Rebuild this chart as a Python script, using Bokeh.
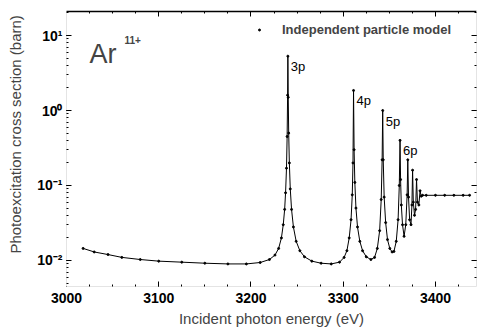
from bokeh.plotting import figure
from bokeh.models import (Range1d, LogAxis, LinearAxis, Label, Legend, LegendItem,
                          CustomJSTickFormatter, SingleIntervalTicker, LogTicker)
from bokeh.core.properties import value
from bokeh.embed import file_html
from bokeh.resources import INLINE

# ---- data ----
energy = [3018, 3030, 3045, 3060, 3080, 3100, 3125, 3150, 3175, 3195,
          3210, 3220, 3226, 3230, 3233, 3235, 3236.5, 3237.5, 3238.5, 3239.2,
          3239.7, 3240.0, 3240.4, 3240.9, 3241.6, 3242.6, 3244, 3246, 3249, 3253,
          3258, 3266, 3276, 3287, 3296, 3301, 3304, 3306.5, 3308.5, 3309.8,
          3310.6, 3311.2, 3311.8, 3312.6, 3313.8, 3315.5, 3318, 3321, 3325, 3330,
          3334, 3337, 3339.5, 3341.2, 3342.2, 3342.8, 3343.4, 3344.4, 3346, 3348,
          3350.5, 3353, 3355, 3357.5, 3359.5, 3360.8, 3361.6, 3362.2, 3363.0, 3364.3,
          3366, 3367.8, 3369.3, 3370.0, 3370.8, 3372, 3373.5, 3374.5, 3375.2, 3376,
          3377.3, 3378.5, 3379.5, 3380.5, 3382, 3383.3, 3384.5, 3386, 3390, 3400,
          3410, 3420, 3430, 3437]
sigma = [0.0145, 0.0130, 0.0120, 0.0110, 0.0103, 0.0098, 0.0095, 0.0092, 0.0090, 0.0090,
         0.0094, 0.0103, 0.0118, 0.0145, 0.020, 0.030, 0.048, 0.080, 0.17, 0.45,
         1.6, 5.3, 1.5, 0.50, 0.20, 0.090, 0.048, 0.028, 0.018, 0.0135,
         0.0112, 0.0098, 0.0092, 0.0090, 0.0095, 0.0110, 0.0135, 0.020, 0.035, 0.075,
         0.20, 1.85, 0.30, 0.11, 0.050, 0.028, 0.018, 0.0135, 0.0112, 0.0103,
         0.0110, 0.0145, 0.025, 0.065, 0.22, 1.0, 0.22, 0.070, 0.032, 0.019,
         0.0145, 0.0130, 0.0132, 0.018, 0.035, 0.10, 0.40, 0.12, 0.055, 0.030,
         0.021, 0.030, 0.075, 0.22, 0.070, 0.035, 0.030, 0.055, 0.16, 0.060,
         0.040, 0.048, 0.12, 0.060, 0.055, 0.085, 0.072, 0.074, 0.074, 0.074,
         0.074, 0.074, 0.074, 0.074]

peak_labels = ["3p", "4p", "5p", "6p"]
peak_energy = [3240.0, 3311.2, 3342.8, 3361.6]
peak_sigma = [5.3, 1.85, 1.0, 0.40]

series_name = "Independent particle model"
ion_name = "Ar"
ion_charge = "11+"
x_title = "Incident photon energy (eV)"
y_title = "Photoexcitation cross section (barn)"

FONT = "Liberation Sans"

p = figure(width=481, height=334, y_axis_type="log",
           x_range=Range1d(3000, 3444.5), y_range=Range1d(0.0045, 20.9),
           output_backend="svg", toolbar_location=None,
           min_border_left=66, min_border_right=5, min_border_top=11,
           min_border_bottom=48)
p.outline_line_color = None
p.xgrid.visible = False
p.ygrid.visible = False
p.background_fill_color = "white"

sup_code = """
const e = Math.round(Math.log10(tick));
const m = {"-":"\u207b","0":"\u2070","1":"\u00b9","2":"\u00b2","3":"\u00b3","4":"\u2074","5":"\u2075","6":"\u2076","7":"\u2077","8":"\u2078","9":"\u2079"};
return "10" + String(e).split("").map(c => m[c]).join("");
"""

p.xaxis.ticker = SingleIntervalTicker(interval=100, num_minor_ticks=4)
p.yaxis.formatter = CustomJSTickFormatter(code=sup_code)

def style_axis(ax, line_color="#e4e4e4"):
    ax.major_tick_in = 5
    ax.major_tick_out = 0
    ax.minor_tick_in = 2
    ax.minor_tick_out = 0
    ax.axis_line_color = line_color
    ax.major_tick_line_color = "black"
    ax.minor_tick_line_color = "black"
    ax.major_label_text_font = FONT
    ax.major_label_text_font_size = "14px"
    ax.major_label_text_font_style = "bold"
    ax.major_label_text_color = "black"

for ax in p.xaxis:
    style_axis(ax)
    ax.major_label_standoff = 6
    ax.axis_label = x_title
    ax.axis_label_text_font = FONT
    ax.axis_label_text_font_size = "15px"
    ax.axis_label_text_font_style = "normal"
    ax.axis_label_standoff = 4
for ax in p.yaxis:
    style_axis(ax)
    ax.major_label_standoff = 4
    ax.axis_label = "\u00a0" * 7 + y_title
    ax.axis_label_text_font = FONT
    ax.axis_label_text_font_size = "15px"
    ax.axis_label_text_font_style = "normal"
    ax.axis_label_standoff = 10

top = LinearAxis(ticker=SingleIntervalTicker(interval=100, num_minor_ticks=4))
style_axis(top, "black")
top.axis_line_width = 1.5
top.major_label_text_alpha = 0
top.major_label_text_font_size = "1px"
top.major_label_standoff = 0
p.add_layout(top, "above")

right = LogAxis(ticker=LogTicker())
style_axis(right)
right.major_label_text_alpha = 0
right.major_label_text_font_size = "1px"
right.major_label_standoff = 0
p.add_layout(right, "right")

p.line(energy, sigma, line_color="black", line_width=1)
r = p.scatter(energy, sigma, size=2, color="black")

p.text(x=peak_energy, y=peak_sigma, text=peak_labels, x_offset=3, y_offset=3,
       text_baseline="top", text_align="left", text_font=value(FONT),
       text_font_size="13px", text_color="black")

legend = Legend(items=[LegendItem(label=series_name, renderers=[r])],
                location=(183, 249), border_line_color=None,
                background_fill_alpha=0, padding=0, margin=0, spacing=0,
                glyph_width=20, glyph_height=5, label_height=14,
                label_standoff=13, label_text_font=FONT,
                label_text_font_size="13px", label_text_font_style="bold")
p.add_layout(legend)

p.add_layout(Label(x=23, y=233, x_units="screen", y_units="screen", text=ion_name,
                   text_font=FONT, text_font_size="27px", text_baseline="alphabetic"))
p.add_layout(Label(x=58, y=247, x_units="screen", y_units="screen", text=ion_charge,
                   text_font=FONT, text_font_size="10px", text_font_style="bold",
                   text_baseline="alphabetic"))

open("out.html", "w").write(file_html(p, INLINE))
